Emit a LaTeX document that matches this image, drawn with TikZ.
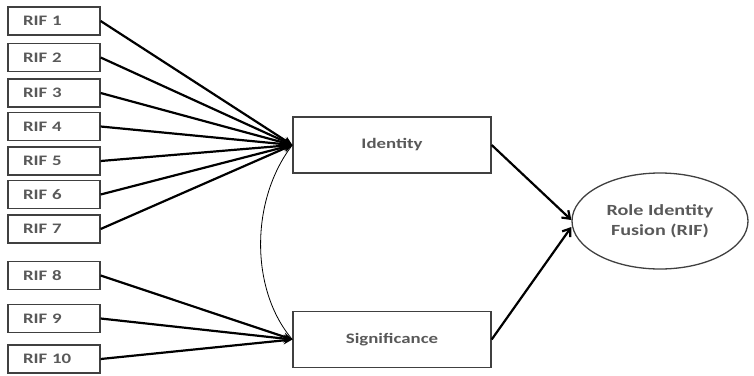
\documentclass[tikz,border=0pt]{standalone}
\usepackage{fontspec}
\setmainfont[FakeStretch=1.3]{Carlito}
\usetikzlibrary{arrows.meta,shapes.geometric}
\begin{document}
\begin{tikzpicture}[x=1pt,y=-1pt,
  rif/.style={draw=black!75, line width=1.3pt, minimum width=92pt, minimum height=28pt,
    inner xsep=0pt, text width=62pt, align=left, font=\fontsize{14.5}{16}\bfseries, text=black!65},
  factor/.style={draw=black!75, line width=1.3pt, minimum width=198pt, minimum height=56pt,
    font=\fontsize{14.5}{16}\bfseries, text=black!65},
  outcome/.style={ellipse, draw=black!75, line width=1.3pt, minimum width=176pt, minimum height=96pt,
    inner sep=0pt, align=center, font=\fontsize{15.5}{20}\bfseries, text=black!65},
  loading/.style={line width=2.2pt, -{Stealth[length=9pt,width=8pt]}},
  effect/.style={line width=2.2pt, -{Straight Barb[length=7pt,width=10pt]}},
  covary/.style={line width=0.8pt}]
\useasboundingbox (0,0) rectangle (754,375);

% indicator boxes
\node[rif] (r1)  at (54,21)    {RIF 1};
\node[rif] (r2)  at (54,57.5)  {RIF 2};
\node[rif] (r3)  at (54,93)    {RIF 3};
\node[rif] (r4)  at (54,126.5) {RIF 4};
\node[rif] (r5)  at (54,161)   {RIF 5};
\node[rif] (r6)  at (54,194.5) {RIF 6};
\node[rif] (r7)  at (54,229)   {RIF 7};
\node[rif] (r8)  at (54,275.5) {RIF 8};
\node[rif] (r9)  at (54,318.5) {RIF 9};
\node[rif] (r10) at (54,359)   {RIF 10};

% latent factors
\node[factor] (ident) at (392,145)   {Identity};
\node[factor] (sig)   at (392,339.5) {Significance};

% outcome
\node[outcome] (fusion) at (660,221) {Role Identity\\Fusion (RIF)};

% covariance between factors
\draw[covary] (ident.west) .. controls (250,200) and (250,290) .. (sig.west);

% indicator loadings
\foreach \i in {1,...,7} \draw[loading] (r\i.east) -- (ident.west);
\foreach \i in {8,9,10} \draw[loading] (r\i.east) -- (sig.west);

% paths to the outcome
\draw[effect] (ident.east) -- ([yshift=1pt]fusion.west);
\draw[effect] (sig.east) -- ([yshift=-6pt]fusion.west);
\end{tikzpicture}
\end{document}
